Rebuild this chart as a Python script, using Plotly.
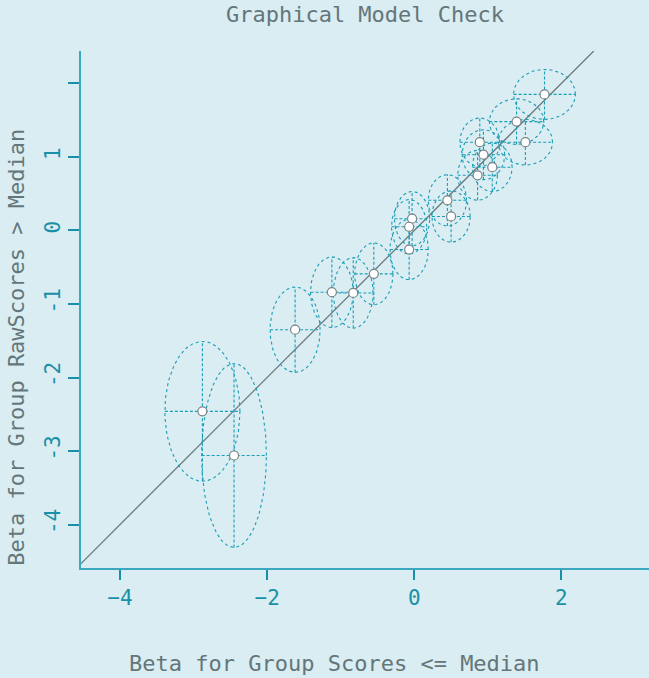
import numpy as np
import plotly.graph_objects as go

# ---- data ----
beta_low = [1.77, 1.39, 1.51, 0.89, 0.94, 1.06, 0.86, 0.45, 0.50, -0.03, -0.07, -0.07,
            -0.55, -0.83, -1.12, -1.62, -2.88, -2.45]
beta_high = [1.85, 1.48, 1.20, 1.20, 1.03, 0.86, 0.75, 0.41, 0.19, 0.16, 0.05, -0.26,
             -0.59, -0.85, -0.84, -1.35, -2.46, -3.06]
err_low = [0.42, 0.37, 0.37, 0.27, 0.29, 0.27, 0.27, 0.26, 0.26, 0.24, 0.24, 0.26,
           0.26, 0.27, 0.29, 0.34, 0.51, 0.44]
err_high = [0.34, 0.31, 0.31, 0.33, 0.34, 0.33, 0.34, 0.35, 0.35, 0.37, 0.37, 0.41,
            0.42, 0.48, 0.48, 0.58, 0.95, 1.25]

x_ticks = [-4, -2, 0, 2]
y_ticks = [-4, -3, -2, -1, 0, 1, 2]
y_ticktext = ["-4", "-3", "-2", "-1", "0", "1", ""]
x_range = [-4.53, 3.19]
y_range = [-4.59, 2.44]

title_text = "Graphical Model Check"
x_title = "Beta for Group Scores <= Median"
y_title = "Beta for Group RawScores > Median"

BG = "#d9edf2"
TEAL = "#1a9db6"
TICK = "#1a90a8"
AXIS = "#3aa9c0"
GREY_TXT = "#647679"
FONT = "DejaVu Sans Mono"

fig = go.Figure()

# identity line
lo = min(x_range[0], y_range[0]) - 0.1
hi = min(x_range[1], y_range[1])
fig.add_trace(go.Scatter(x=[lo, hi], y=[lo, hi], mode="lines",
                         line=dict(color="#6b7a7e", width=1.3),
                         hoverinfo="skip", showlegend=False))

t = np.linspace(0, 2 * np.pi, 121)
for cx, cy, ex, ey in zip(beta_low, beta_high, err_low, err_high):
    fig.add_trace(go.Scatter(x=cx + ex * np.cos(t), y=cy + ey * np.sin(t), mode="lines",
                             line=dict(color=TEAL, width=1.1, dash="dot"),
                             hoverinfo="skip", showlegend=False))
    fig.add_trace(go.Scatter(x=[cx - ex, cx + ex, None, cx, cx],
                             y=[cy, cy, None, cy - ey, cy + ey], mode="lines",
                             line=dict(color=TEAL, width=1.1, dash="3px,2px"),
                             hoverinfo="skip", showlegend=False))

fig.add_trace(go.Scatter(x=beta_low, y=beta_high, mode="markers",
                         marker=dict(size=9, color="white",
                                     line=dict(color="#7a8486", width=1.2)),
                         showlegend=False))

fig.update_layout(
    width=649, height=678,
    paper_bgcolor=BG, plot_bgcolor=BG,
    margin=dict(l=81, r=0, t=51, b=110),
    font=dict(family=FONT, color=GREY_TXT, size=20),
    title=dict(text=title_text, x=(81 + 649) / 2 / 649, xanchor="center",
               y=1 - 14 / 678, yanchor="middle", yref="container",
               font=dict(family=FONT, size=22, color=GREY_TXT)),
    showlegend=False,
    annotations=[
        dict(text=x_title, xref="paper", yref="paper", x=(334 - 81) / 568,
             y=(567.7 - 663) / 517, xanchor="center", yanchor="middle", showarrow=False,
             font=dict(family=FONT, size=22, color=GREY_TXT)),
        dict(text=y_title, xref="paper", yref="paper", x=(17 - 81) / 568,
             y=(567.7 - 347.5) / 517, xanchor="center", yanchor="middle", showarrow=False,
             textangle=-90, font=dict(family=FONT, size=22, color=GREY_TXT)),
    ],
)
fig.update_xaxes(range=x_range, tickvals=x_ticks, ticks="outside", ticklen=10, tickwidth=2,
                 tickcolor=TICK, showline=True, linecolor=AXIS, linewidth=2,
                 showgrid=False, zeroline=False,
                 tickfont=dict(family=FONT, size=21, color=TICK))
fig.update_yaxes(range=y_range, tickvals=y_ticks, ticktext=y_ticktext, ticks="outside",
                 ticklen=11, tickwidth=2, tickcolor=TICK, tickangle=-90,
                 showline=True, linecolor=AXIS, linewidth=2,
                 showgrid=False, zeroline=False,
                 tickfont=dict(family=FONT, size=21, color=TICK))

fig.write_html("out.html", config={"displayModeBar": False},
               post_script="document.body.style.margin='0';document.body.style.padding='0';")
